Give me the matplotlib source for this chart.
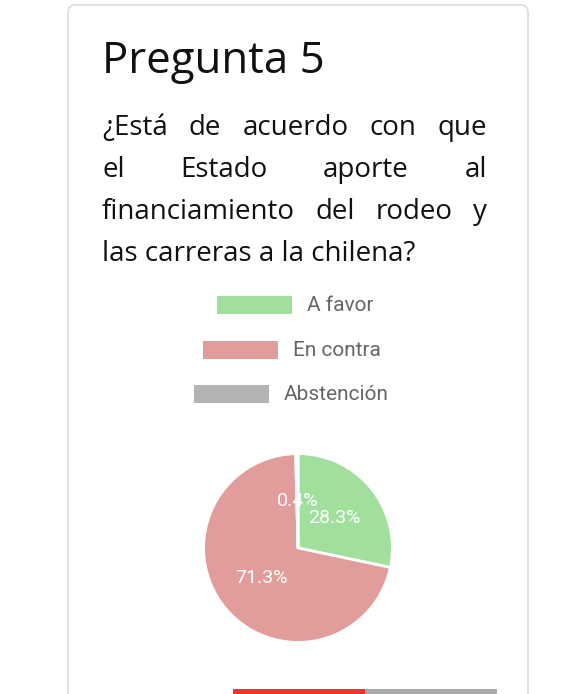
import matplotlib
matplotlib.use("Agg")
import matplotlib.pyplot as plt
from matplotlib.patches import FancyBboxPatch, Rectangle

categories = ["A favor", "En contra", "Abstención"]
values = [28.3, 71.3, 0.4]
colors = ["#a0e09c", "#e39c9c", "#b3b3b3"]
title = "Pregunta 5"

W, H = 565, 694
fig = plt.figure(figsize=(W/100, H/100), dpi=100)
fig.patch.set_facecolor("white")

def fx(x): return x / W
def fy(y): return 1 - y / H

# card
card = FancyBboxPatch((fx(68), fy(720)), fx(528)-fx(68), fy(5)-fy(720),
                      boxstyle="round,pad=0,rounding_size=0.012",
                      transform=fig.transFigure, facecolor="white",
                      edgecolor="#dddddd", linewidth=1.2, zorder=-5)
fig.patches.append(card)

font = "Open Sans"
fig.text(fx(102), fy(62), title, fontsize=31.5, fontweight="medium", family=font,
         va="center", ha="left", color="#111111")

lines = [
    (["¿Está", "de", "acuerdo", "con", "que"], True),
    (["el", "Estado", "aporte", "al"], True),
    (["financiamiento", "del", "rodeo", "y"], True),
    (["las", "carreras", "a", "la", "chilena?"], False),
]
ys = [128, 170, 212, 254]
x0, x1 = 102, 487
fs = 20
r = fig.canvas.get_renderer()
for (words, just), y in zip(lines, ys):
    if not just:
        fig.text(fx(x0), fy(y), " ".join(words), fontsize=fs, family=font,
                 va="center", ha="left", color="#111111")
        continue
    ts = [fig.text(0, 0, w, fontsize=fs, family=font) for w in words]
    ws = [t.get_window_extent(r).width for t in ts]
    for t in ts: t.remove()
    gap = (x1 - x0 - sum(ws)) / (len(words) - 1)
    x = x0
    for w, wd in zip(words, ws):
        fig.text(fx(x), fy(y), w, fontsize=fs, family=font, va="center",
                 ha="left", color="#111111")
        x += wd + gap

# legend
leg = [(217, 305), (203, 350), (194, 394)]
for (bx, y), lab, c in zip(leg, categories, colors):
    fig.patches.append(Rectangle((fx(bx), fy(y+9)), 75/W, 18/H,
                                 transform=fig.transFigure, facecolor=c, edgecolor="none"))
    fig.text(fx(bx+90), fy(y), lab, fontsize=15, family="Roboto", color="#666666",
             va="center", ha="left")

# pie
ax = fig.add_axes([fx(180), fy(666), 236/W, 236/H], zorder=5)
ax.pie(values, colors=colors, startangle=90, counterclock=False,
       autopct="%.1f%%", pctdistance=0.5,
       wedgeprops=dict(edgecolor="white", linewidth=2),
       textprops=dict(color="white", fontsize=14, family="Roboto"))
ax.set_aspect("equal")

# bottom bars
fig.patches.append(Rectangle((fx(233), 0), 132/W, 5/H, transform=fig.transFigure,
                             facecolor="#e53935", edgecolor="none"))
fig.patches.append(Rectangle((fx(365), 0), 132/W, 5/H, transform=fig.transFigure,
                             facecolor="#aaaaaa", edgecolor="none"))

fig.savefig("out.png", dpi=100, facecolor="white")
